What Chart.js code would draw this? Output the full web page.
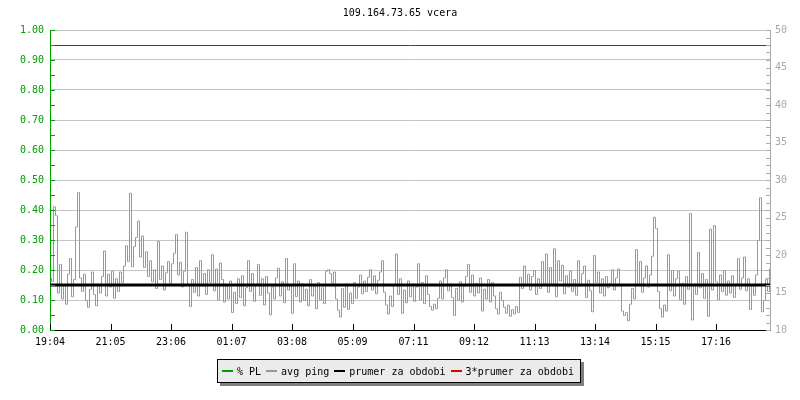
<!DOCTYPE html>
<html>
<head>
<meta charset="utf-8">
<script src="https://cdn.jsdelivr.net/npm/chart.js@4.4.1/dist/chart.umd.min.js"></script>
<style>
  html, body { margin: 0; padding: 0; background: #ffffff; }
  #wrap { position: relative; width: 800px; height: 400px; }
  #legend {
    position: absolute; left: 217px; top: 359px; width: 358px; height: 22px;
    border: 1px solid #000; background: #ebebeb; box-shadow: 3px 3px 0 #808080;
    font-family: "DejaVu Sans Mono", monospace; font-size: 10px; color: #000;
    display: flex; align-items: center; padding-left: 4px; box-sizing: content-box;
  }
  #legend .item { display: flex; align-items: center; margin-right: 5px; white-space: pre; }
  #legend .sw { width: 11px; height: 2px; margin-right: 4px; }
</style>
</head>
<body>
<div id="wrap">
  <canvas id="c" width="800" height="400"></canvas>
  <div id="legend"></div>
</div>
<script>
// ---- data ----
const chartTitle = "109.164.73.65 vcera";
const seriesNames = ["% PL", "avg ping", "prumer za obdobi", "3*prumer za obdobi"];
const xTickLabels = ["19:04","21:05","23:06","01:07","03:08","05:09","07:11","09:12","11:13","13:14","15:15","17:16"];
const startTime = "19:04";
const periodMinutes = 1440;
const sampleStepMinutes = 4;
const packetLoss = [];            // % PL (no loss recorded)
const avgPing = [
  17.0,16.5,26.5,25.3,15.0,18.8,14.2,16.0,13.5,17.5,19.6,14.5,16.8,23.8,28.4,17.0,15.2,17.5,14.0,13.1,
  15.5,17.8,14.8,13.3,16.2,15.0,17.2,20.6,14.6,17.5,15.8,17.9,14.3,16.9,15.2,17.8,16.4,18.6,21.3,19.2,
  28.3,18.5,21.2,22.4,24.6,19.8,22.6,18.4,20.5,17.2,19.3,16.5,18.1,15.6,21.9,16.8,18.6,15.4,17.7,19.2,
  16.3,18.9,20.3,22.8,17.4,19.1,15.8,17.9,23.1,16.2,13.2,16.8,15.1,18.4,14.6,19.3,15.9,17.6,14.8,18.1,
  16.4,20.1,15.3,18.2,14.1,19.0,16.8,13.8,15.9,14.2,16.6,12.4,15.1,13.6,16.9,14.4,17.3,13.3,15.7,19.3,
  15.2,17.6,13.9,16.2,18.8,14.7,16.9,13.4,17.2,15.0,12.1,15.8,14.2,17.0,18.3,14.6,16.5,13.7,19.6,15.4,
  16.1,12.3,18.9,14.5,16.6,13.8,16.2,14.0,15.5,13.3,16.8,14.6,15.9,12.9,16.4,14.1,15.7,13.6,17.9,18.1,
  17.6,16.3,17.8,14.2,12.7,11.8,15.6,13.1,16.2,12.8,15.0,13.6,16.4,14.3,15.8,17.4,14.9,16.6,15.2,17.1,
  18.1,15.4,17.3,14.9,16.7,17.8,19.3,15.1,13.4,12.2,14.6,13.2,16.1,20.2,14.8,16.9,12.3,15.4,13.7,16.6,
  14.5,16.2,13.9,15.8,18.9,14.1,16.4,13.6,17.3,14.8,13.2,12.7,13.5,12.9,14.3,16.6,14.2,17.0,18.1,15.3,
  16.2,14.4,12.0,15.6,14.0,16.5,13.8,15.9,17.2,18.8,15.1,17.4,14.6,16.3,15.0,17.0,12.6,15.5,14.2,16.8,
  13.8,16.4,14.6,12.9,12.2,15.1,14.0,13.1,12.3,13.4,11.9,12.8,12.2,13.2,12.4,17.1,15.6,18.6,16.1,17.5,
  15.4,17.2,18.0,14.8,16.9,15.6,19.2,16.3,20.2,15.1,18.4,16.0,20.9,14.5,19.3,16.6,18.7,14.9,17.3,15.8,
  17.9,15.2,16.8,14.7,19.3,15.9,17.6,18.6,14.4,16.7,15.3,12.5,20.0,16.4,17.8,15.0,16.9,14.6,17.2,15.7,
  16.3,18.1,15.4,17.0,18.2,16.1,12.6,12.0,12.4,11.3,13.5,15.6,14.2,20.8,16.0,19.2,15.1,17.0,18.6,15.8,
  17.4,19.9,25.1,23.6,15.2,12.9,11.8,13.4,12.6,20.1,15.3,18.0,14.6,16.9,17.9,14.1,16.3,13.5,17.2,15.5,
  25.6,11.4,16.2,14.8,20.4,15.7,17.6,14.3,16.8,11.9,23.5,15.4,24.0,16.5,14.1,17.4,15.2,18.0,14.7,16.6,
  15.0,17.3,14.4,16.2,19.6,15.5,17.0,19.8,15.3,16.9,12.8,16.1,14.7,17.4,22.0,27.7,12.5,14.0,16.8,15.2,
  18.2
];
const periodAverage = 16;          // prumer za obdobi (ms)
const averageFactor = 3;           // 3*prumer za obdobi
const leftAxisRange = [0, 1];
const rightAxisRange = [10, 50];

// ---- derived tables ----
function toMinutes(t) { const [h, m] = t.split(":").map(Number); return h * 60 + m; }
const startMin = toMinutes(startTime);
const xTickValues = xTickLabels.map(t => (toMinutes(t) - startMin + 1440) % 1440);
const pingPoints = avgPing.map((v, i) => ({ x: i * sampleStepMinutes, y: v }));
const plPoints = packetLoss.map((v, i) => ({ x: i * sampleStepMinutes, y: v }));
const avgLine = [{ x: 0, y: periodAverage }, { x: periodMinutes, y: periodAverage }];
const triLine = [{ x: 0, y: periodAverage * averageFactor }, { x: periodMinutes, y: periodAverage * averageFactor }];

const GREEN = "#00a000", GRAY = "#989898", GRID = "#c4c4c4", AXGRAY = "#a8a8a8", RED = "#e00000";
const FONT = { family: "'DejaVu Sans Mono', monospace", size: 10, weight: "normal" };
const seriesColors = [GREEN, GRAY, "#000000", RED];

// legend (HTML)
const lg = document.getElementById("legend");
seriesNames.forEach((n, i) => {
  const it = document.createElement("div"); it.className = "item";
  const sw = document.createElement("span"); sw.className = "sw"; sw.style.background = seriesColors[i];
  const tx = document.createElement("span"); tx.textContent = n;
  it.appendChild(sw); it.appendChild(tx); lg.appendChild(it);
});

const innerTicks = {
  id: "innerTicks",
  beforeDatasetDraw(chart, args) {
    // crisp 1px lines for the thin series
    if (args.index === 1 || args.index === 3) { chart.ctx.save(); chart.ctx.translate(0.5, 0.5); }
  },
  afterDatasetDraw(chart, args) {
    if (args.index === 1 || args.index === 3) chart.ctx.restore();
  },
  afterDraw(chart) {
    const ctx = chart.ctx, a = chart.chartArea;
    const yL = chart.scales.yL, yR = chart.scales.yR, xs = chart.scales.x;
    ctx.save(); ctx.lineWidth = 1;
    ctx.strokeStyle = GREEN; ctx.beginPath();
    for (let k = 0; k <= 20; k++) {
      const y = Math.round(yL.getPixelForValue(leftAxisRange[0] + k * 0.05)) + 0.5;
      ctx.moveTo(a.left, y); ctx.lineTo(a.left + 5, y);
    }
    ctx.stroke();
    ctx.strokeStyle = AXGRAY; ctx.beginPath();
    for (let v = rightAxisRange[0]; v <= rightAxisRange[1]; v++) {
      const y = Math.round(yR.getPixelForValue(v)) + 0.5;
      ctx.moveTo(a.right - 4, y); ctx.lineTo(a.right, y);
    }
    ctx.stroke();
    ctx.strokeStyle = "#000"; ctx.beginPath();
    xTickValues.forEach(v => {
      const x = Math.round(xs.getPixelForValue(v)) + 0.5;
      ctx.moveTo(x, a.bottom); ctx.lineTo(x, a.bottom - 6);
    });
    ctx.stroke();
    ctx.restore();
  }
};

new Chart(document.getElementById("c"), {
  type: "line",
  data: {
    datasets: [
      { label: seriesNames[0], data: plPoints, yAxisID: "yL", borderColor: GREEN, borderWidth: 1, pointRadius: 0, order: 0 },
      { label: seriesNames[1], data: pingPoints, yAxisID: "yR", borderColor: GRAY, borderWidth: 1, pointRadius: 0, stepped: "middle", order: 3 },
      { label: seriesNames[2], data: avgLine, yAxisID: "yR", borderColor: "#000", borderWidth: 3, pointRadius: 0, order: 1 },
      { label: seriesNames[3], data: triLine, yAxisID: "yR", borderColor: RED, borderWidth: 1, pointRadius: 0, order: 2 }
    ]
  },
  options: {
    responsive: false, animation: false, devicePixelRatio: 1,
    layout: { padding: 0 },
    plugins: {
      legend: { display: false }, tooltip: { enabled: false },
      title: { display: true, text: chartTitle, color: "#000", font: FONT, padding: { top: 7, bottom: 11 } }
    },
    scales: {
      x: {
        type: "linear", min: 0, max: periodMinutes, position: "bottom",
        afterBuildTicks(s) { s.ticks = xTickValues.map(v => ({ value: v })); },
        afterFit(s) { s.height = 70; },
        grid: { display: false, drawTicks: false },
        border: { color: "#000", width: 1 },
        ticks: { autoSkip: false, maxRotation: 0, padding: 6, color: "#000", font: FONT,
                 callback: v => xTickLabels[xTickValues.indexOf(v)] }
      },
      yL: {
        type: "linear", position: "left", min: leftAxisRange[0], max: leftAxisRange[1],
        afterFit(s) { s.width = 50; },
        grid: { drawTicks: false, color: c => (c.tick && c.tick.value === 0) ? "rgba(0,0,0,0)" : GRID },
        border: { color: GREEN, width: 1 },
        ticks: { stepSize: 0.1, padding: 6, color: GREEN, font: FONT, callback: v => Number(v).toFixed(2) }
      },
      yR: {
        type: "linear", position: "right", min: rightAxisRange[0], max: rightAxisRange[1],
        afterFit(s) { s.width = 30; },
        grid: { display: false, drawTicks: false },
        border: { color: AXGRAY, width: 1 },
        ticks: { stepSize: 5, padding: 5, color: AXGRAY, font: FONT }
      }
    }
  },
  plugins: [innerTicks]
});
</script>
</body>
</html>
